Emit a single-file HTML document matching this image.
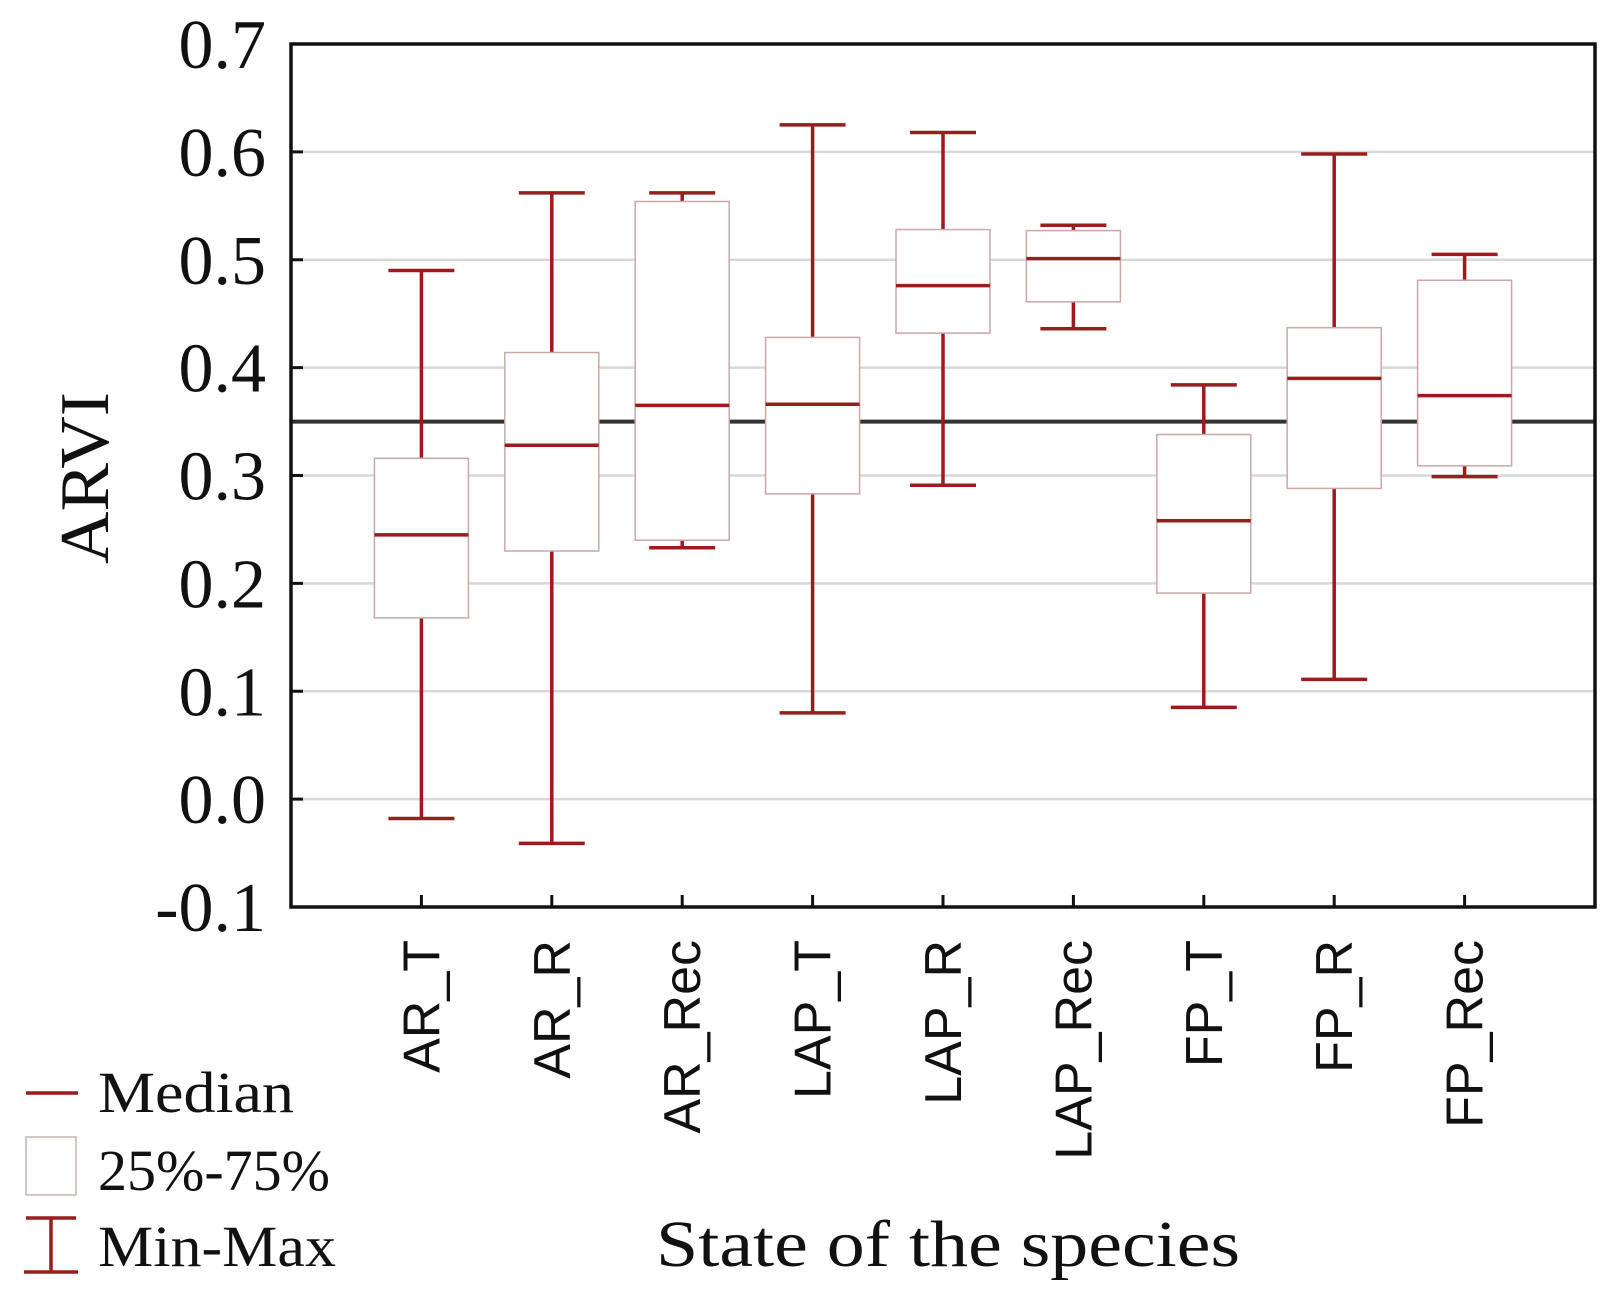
<!DOCTYPE html>
<html><head><meta charset="utf-8"><style>
body{margin:0;background:#fff;}
svg{display:block;}
.serif{font-family:"Liberation Serif",serif;fill:#111;}
.sans{font-family:"Liberation Sans",sans-serif;fill:#111;}
</style></head><body>
<svg id="chart" width="1616" height="1304" viewBox="0 0 1616 1304" xmlns="http://www.w3.org/2000/svg">
<g id="grid"></g><g id="boxes"></g><g id="axes"></g>
<g>
 <line x1="26" y1="1093" x2="78" y2="1093" stroke="#9b1c1c" stroke-width="3.5"/>
 <text x="98" y="1112" class="serif" font-size="58" textLength="196" lengthAdjust="spacingAndGlyphs">Median</text>
 <rect x="26" y="1137" width="50" height="58" fill="#fff" stroke="#c9b3b3" stroke-width="1.5"/>
 <text x="98" y="1190" class="serif" font-size="58" textLength="232" lengthAdjust="spacingAndGlyphs">25%-75%</text>
 <path d="M26 1218 H76 M51 1218 V1272 M24 1272 H78" stroke="#9b1c1c" stroke-width="3.5" fill="none"/>
 <text x="98" y="1266" class="serif" font-size="58" textLength="238" lengthAdjust="spacingAndGlyphs">Min-Max</text>
</g>
<text x="948" y="1266" text-anchor="middle" class="serif" font-size="66" textLength="584" lengthAdjust="spacingAndGlyphs">State of the species</text>
<text transform="translate(108,478) rotate(-90)" text-anchor="middle" class="serif" font-size="70" textLength="172" lengthAdjust="spacingAndGlyphs">ARVI</text>
</svg>
<script>
const categories=["AR_T","AR_R","AR_Rec","LAP_T","LAP_R","LAP_Rec","FP_T","FP_R","FP_Rec"];
const maxVals=[0.49,0.562,0.562,0.625,0.618,0.532,0.384,0.598,0.505];
const q3Vals=[0.316,0.414,0.554,0.428,0.528,0.527,0.338,0.437,0.481];
const medianVals=[0.245,0.328,0.365,0.366,0.476,0.501,0.258,0.39,0.374];
const q1Vals=[0.168,0.23,0.24,0.283,0.432,0.461,0.191,0.288,0.309];
const minVals=[-0.018,-0.041,0.233,0.08,0.291,0.436,0.085,0.111,0.299];
const yTicks=[-0.1,0,0.1,0.2,0.3,0.4,0.5,0.6,0.7];
const yTickLabels=["-0.1","0.0","0.1","0.2","0.3","0.4","0.5","0.6","0.7"];
const refValue=0.35;

const L=291,R=1595,T=44,B=907,vmin=-0.1,vmax=0.7;
const y=v=>B-(v-vmin)/(vmax-vmin)*(B-T);
const x=i=>L+(i+1)*(R-L)/(categories.length+1);
const NS="http://www.w3.org/2000/svg";
function mk(parent,tag,attrs){const e=document.createElementNS(NS,tag);for(const k in attrs)e.setAttribute(k,attrs[k]);document.getElementById(parent).appendChild(e);return e;}

yTicks.forEach((v,i)=>{
  if(v>vmin&&v<vmax){
    const g=mk('grid','line',{x1:L,x2:R,y1:y(v),y2:y(v),stroke:'#d8d8d8','stroke-width':2.5});
    
    
  }
  const tk=mk('axes','line',{x1:L,x2:L+12,y1:y(v),y2:y(v),stroke:'#111','stroke-width':3});
  
  
  const t=mk('axes','text',{x:266,y:y(v)+24,'text-anchor':'end','class':'serif','font-size':70});
  t.textContent=yTickLabels[i];
  
  
});
const ref=mk('grid','line',{x1:L,x2:R,y1:y(refValue),y2:y(refValue),stroke:'#333','stroke-width':4});



const bw=94,cw=66,red='#9b1c1c';
categories.forEach((c,i)=>{
  const cx=x(i);
  const w=mk('boxes','path',{d:`M${cx} ${y(maxVals[i])} V${y(minVals[i])} M${cx-cw/2} ${y(maxVals[i])} H${cx+cw/2} M${cx-cw/2} ${y(minVals[i])} H${cx+cw/2}`,stroke:red,'stroke-width':3.5,fill:'none'});
  
  
  const b=mk('boxes','rect',{x:cx-bw/2,y:y(q3Vals[i]),width:bw,height:y(q1Vals[i])-y(q3Vals[i]),fill:'#fff',stroke:'#c9a8a8','stroke-width':1.5});
  
  
  const m=mk('boxes','line',{x1:cx-bw/2,x2:cx+bw/2,y1:y(medianVals[i]),y2:y(medianVals[i]),stroke:red,'stroke-width':3.5});
  
  
  const tk=mk('axes','line',{x1:cx,x2:cx,y1:B,y2:B-12,stroke:'#111','stroke-width':3});
  
  
  const t=mk('axes','text',{transform:`translate(${cx+18},940) rotate(-90)`,'text-anchor':'end','class':'sans','font-size':52});
  t.textContent=c;
  
  
});
const frame=mk('axes','rect',{x:L,y:T,width:R-L,height:B-T,fill:'none',stroke:'#111','stroke-width':3.5});


</script>
</body></html>
